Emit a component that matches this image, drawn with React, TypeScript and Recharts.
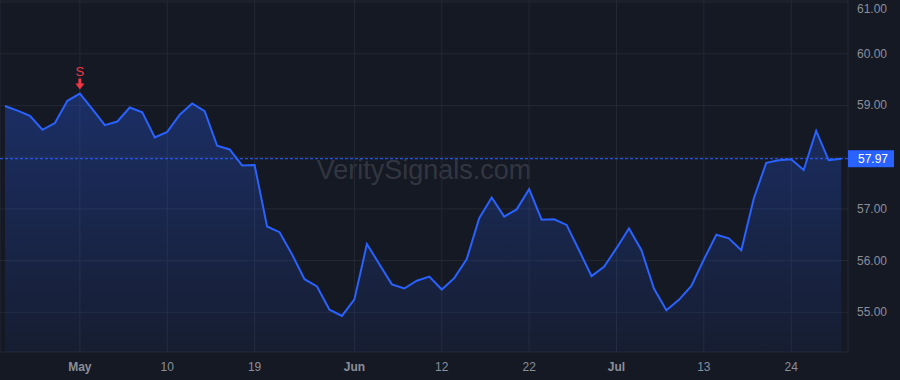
import React from 'react';
import { ComposedChart, Area, XAxis, YAxis, CartesianGrid, ReferenceLine, ReferenceDot } from 'recharts';

const prices = [
  58.99, 58.90, 58.80, 58.53, 58.66, 59.09, 59.23, 58.93, 58.62, 58.69,
  58.96, 58.87, 58.38, 58.49, 58.82, 59.04, 58.89, 58.22, 58.15, 57.84,
  57.85, 56.66, 56.55, 56.12, 55.64, 55.50, 55.05, 54.93, 55.25, 56.32,
  55.93, 55.54, 55.46, 55.61, 55.69, 55.44, 55.66, 56.03, 56.82, 57.22,
  56.85, 56.99, 57.38, 56.79, 56.80, 56.69, 56.20, 55.70, 55.88, 56.24,
  56.62, 56.20, 55.46, 55.04, 55.24, 55.51, 56.02, 56.50, 56.43, 56.20,
  57.20, 57.89, 57.94, 57.96, 57.75, 58.51, 57.94, 57.97,
];
const tickIndices = [6, 13, 20, 28, 35, 42, 49, 56, 63];
const tickLabels = ['May', '10', '19', 'Jun', '12', '22', 'Jul', '13', '24'];
const monthLabels = ['May', 'Jun', 'Jul'];
const yTicks = [55, 56, 57, 58, 59, 60, 61];
const lastPrice = 57.97;
const signalIndex = 6;
const signalLabel = 'S';
const watermark = 'VeritySignals.com';

const data = prices.map((p, i) => ({ i, p }));

const FONT = '"Liberation Sans", Arial, sans-serif';
const BG = '#151924';
const BLUE = '#2962ff';
const RED = '#f23645';
const TEXT = '#8b8f9a';

const XTick = (props: any) => {
  const { x, y, payload } = props;
  const idx = tickIndices.indexOf(payload.value);
  const label = idx >= 0 ? tickLabels[idx] : '';
  const bold = monthLabels.includes(label);
  return (
    <text x={x} y={y} dy={11} textAnchor="middle" fill={TEXT} fontSize={12} fontFamily={FONT} fontWeight={bold ? 700 : 400}>
      {label}
    </text>
  );
};

const YTick = (props: any) => {
  const { x, y, payload } = props;
  if (payload.value === 58) return null;
  return (
    <text x={x} y={y} dy={4} textAnchor="start" fill={TEXT} fontSize={12} fontFamily={FONT}>
      {Number(payload.value).toFixed(2)}
    </text>
  );
};

const PriceLabel = (props: any) => {
  const vb = props.viewBox || {};
  const right = (vb.x || 0) + (vb.width || 0);
  const y = vb.y || 0;
  return (
    <g>
      <rect x={right} y={y - 8.5} width={46} height={17} fill={BLUE} />
      <text x={right + 10} y={y + 4.5} fill="#ffffff" fontSize={12} fontFamily={FONT}>
        {lastPrice.toFixed(2)}
      </text>
    </g>
  );
};

const SignalShape = (props: any) => {
  const { cx, cy } = props;
  const tip = cy - 4;
  return (
    <g>
      <rect x={cx - 1.5} y={tip - 11} width={3} height={6} fill={RED} />
      <path d={`M ${cx - 4.5} ${tip - 6} L ${cx + 4.5} ${tip - 6} L ${cx} ${tip} Z`} fill={RED} />
      <text x={cx} y={tip - 14} textAnchor="middle" fill={RED} fontSize={13} fontFamily={FONT}>
        {signalLabel}
      </text>
    </g>
  );
};

export default function App() {
  return (
    <div style={{ position: 'absolute', left: 0, top: 0, width: 900, height: 380, background: BG, overflow: 'hidden' }}>
      <div
        style={{
          position: 'absolute', left: 0, width: 848, top: 152, textAlign: 'center',
          fontFamily: FONT, fontSize: 27, color: 'rgba(255,255,255,0.14)', lineHeight: '36px',
        }}
      >
        {watermark}
      </div>
      <div style={{ position: 'absolute', left: 0, top: 0 }}>
        <ComposedChart width={900} height={380} data={data} margin={{ top: 0, right: 0, bottom: 0, left: 0 }}>
          <defs>
            <linearGradient id="areaFill" x1="0" y1="0" x2="0" y2="1">
              <stop offset="0%" stopColor={BLUE} stopOpacity={0.3} />
              <stop offset="100%" stopColor={BLUE} stopOpacity={0.06} />
            </linearGradient>
          </defs>
          <CartesianGrid stroke="#242834" strokeWidth={1} />
          <XAxis
            dataKey="i"
            type="number"
            domain={[-0.4, 67.55]}
            ticks={tickIndices}
            allowDataOverflow
            axisLine={false}
            tickLine={false}
            height={28}
            tickSize={0}
            tickMargin={8}
            tick={<XTick />}
          />
          <YAxis
            orientation="right"
            width={52}
            domain={[54.232, 61.04]}
            ticks={yTicks}
            allowDataOverflow
            axisLine={false}
            tickLine={false}
            tickSize={0}
            tickMargin={9}
            tick={<YTick />}
          />
          <Area
            type="linear"
            dataKey="p"
            stroke={BLUE}
            strokeWidth={2}
            fill="url(#areaFill)"
            fillOpacity={1}
            dot={false}
            activeDot={false}
            isAnimationActive={false}
          />
          <ReferenceLine y={lastPrice} stroke={BLUE} strokeDasharray="3 2" strokeWidth={1} label={<PriceLabel />} />
          <ReferenceDot x={signalIndex} y={prices[signalIndex]} r={0} shape={<SignalShape />} />
        </ComposedChart>
      </div>
    </div>
  );
}
